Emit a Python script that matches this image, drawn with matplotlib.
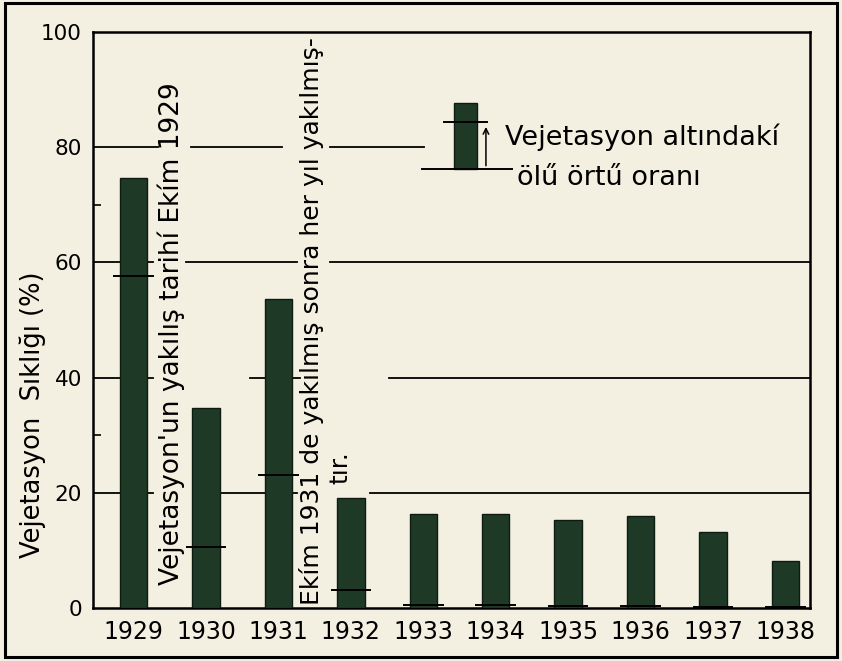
import matplotlib
matplotlib.use("Agg")
import matplotlib.pyplot as plt
from matplotlib.patches import Rectangle

# data
years = ['1929', '1930', '1931', '1932', '1933', '1934', '1935', '1936', '1937', '1938']
vegetation = [74.7, 34.8, 53.7, 19.1, 16.3, 16.4, 15.3, 16.0, 13.2, 8.2]
dead_cover = [57.6, 10.6, 23.1, 3.1, 0.6, 0.6, 0.4, 0.3, 0.2, 0.2]
y_ticks = [0, 20, 40, 60, 80, 100]

bg = '#f4f0e1'
bar_col = '#1e3a26'

# hand drawn grid lines are broken where the notes are (axes fraction x ranges)
grid_pieces = {
    80: [(0.0, 0.091), (0.137, 0.264), (0.331, 0.462)],
    60: [(0.0, 0.083), (0.130, 0.284), (0.331, 1.0)],
    40: [(0.0, 0.083), (0.219, 0.289), (0.413, 1.0)],
    20: [(0.0, 0.083), (0.149, 0.284), (0.386, 1.0)],
}

fig = plt.figure(figsize=(8.42, 6.61), dpi=100)
fig.patch.set_facecolor(bg)
ax = fig.add_axes([0.1105, 0.0802, 0.8515, 0.8714])
ax.set_facecolor(bg)

x = list(range(len(years)))
ax.bar(x, vegetation, width=0.38, color=bar_col, edgecolor='#0e1b12', linewidth=1, zorder=3)
ax.hlines(dead_cover, [i - 0.28 for i in x], [i + 0.28 for i in x], color='black', linewidth=1.4, zorder=4)

ytr = ax.get_yaxis_transform()
for level, pieces in grid_pieces.items():
    for a, b in pieces:
        ax.plot([a, b], [level, level], color='black', linewidth=1.3, transform=ytr, zorder=1)

ax.set_xlim(-0.56, 9.34)
ax.set_ylim(0, 100)
ax.set_xticks(x)
ax.set_xticklabels(years, fontsize=17)
ax.set_yticks(y_ticks)
ax.set_yticklabels([str(v) for v in y_ticks], fontsize=15.5)
ax.set_yticks([30, 70], minor=True)
ax.tick_params(axis='x', length=0, pad=9)
ax.tick_params(axis='y', which='major', length=0, pad=8)
ax.tick_params(axis='y', which='minor', direction='in', length=6, width=1.2)
for s in ax.spines.values():
    s.set_linewidth(1.8)

ax.set_ylabel('Vejetasyon  Sıklığı (%)', fontsize=18.5)
ax.yaxis.set_label_coords(-0.066, 0.335)

# notes written along the bars
ax.text(0.52, 47.6, "Vejetasyon'un yakılış tarihí Ekím 1929", rotation=90,
        ha='center', va='center', fontsize=19, zorder=5)
ax.text(2.45, 49.8, "Ekím 1931 de yakılmış sonra her yıl yakılmış-", rotation=90,
        ha='center', va='center', fontsize=18, zorder=5)
ax.text(2.86, 24.3, "tır.", rotation=90, ha='center', va='center', fontsize=18, zorder=5)

# key for the dead cover tick
ax.add_patch(Rectangle((0.503, 76.3), 0.033, 11.4, transform=ytr,
                       facecolor=bar_col, edgecolor='#0e1b12', linewidth=1, zorder=3))
ax.plot([0.489, 0.550], [84.3, 84.3], color='black', linewidth=1.4, transform=ytr, zorder=4)
ax.plot([0.459, 0.584], [76.3, 76.3], color='black', linewidth=1.4, transform=ytr, zorder=4)
ax.annotate('', xy=(0.548, 84.0), xytext=(0.548, 76.3), xycoords=ytr, textcoords=ytr,
            arrowprops=dict(arrowstyle='->', color='black', lw=1.1), zorder=4)
ax.text(0.574, 81.8, 'Vejetasyon altındakí', transform=ytr, ha='left', va='center', fontsize=19.5)
ax.text(0.592, 74.6, 'ölű örtű oranı', transform=ytr, ha='left', va='center', fontsize=19.5)

# frame round the whole page
fig.patches.append(Rectangle((0.006, 0.006), 0.988, 0.989, transform=fig.transFigure,
                             fill=False, edgecolor='black', linewidth=2.2))

fig.savefig('out.png', dpi=100, facecolor=bg)
